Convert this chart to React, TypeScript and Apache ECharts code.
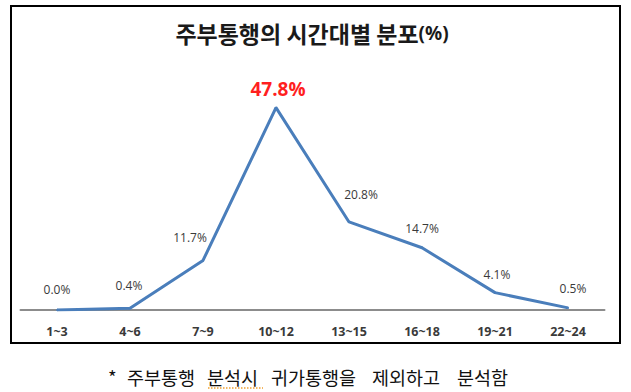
import React, { useEffect, useRef } from "react";
import * as echarts from "echarts";

const categories = ["1~3", "4~6", "7~9", "10~12", "13~15", "16~18", "19~21", "22~24"];
const shares = [0.0, 0.4, 11.7, 47.8, 20.8, 14.7, 4.1, 0.5];
const labelOffsets = [[0, -9], [-1, -11], [-13, -11], [2, -3], [12, -15], [0, -7], [2, -6], [5, -7]];
const titleText = "주부통행의 시간대별 분포";
const titleUnit = "(%)";
const noteWords = ["*", "주부통행", "분석시", "귀가통행을", "제외하고", "분석함"];
const noteX = [108, 127, 207, 271, 372, 457];

export default function App() {
  const ref = useRef<HTMLDivElement>(null);
  useEffect(() => {
    const chart = echarts.init(ref.current!, null, { renderer: "svg" });
    const maxV = Math.max(...shares);
    const option = {
      animation: false,
      backgroundColor: "#ffffff",
      grid: { left: 20.5, right: 26.5, top: 56, bottom: 82 },
      xAxis: {
        type: "category",
        data: categories,
        boundaryGap: true,
        axisLine: { lineStyle: { color: "#8c8c8c", width: 2 } },
        axisTick: { show: false },
        axisLabel: {
          margin: 15,
          fontSize: 12.5,
          fontWeight: "bold",
          color: "#3a3a3a",
          fontFamily: "Open Sans",
        },
      },
      yAxis: { type: "value", min: 0, max: 60, show: false },
      series: [
        {
          type: "line",
          data: shares.map((v, i) => ({
            value: v,
            label:
              v === maxV
                ? {
                    offset: labelOffsets[i],
                    fontSize: 19,
                    fontWeight: "bold",
                    color: "#ff1f1f",
                    fontFamily: "Open Sans",
                  }
                : { offset: labelOffsets[i] },
          })),
          symbol: "circle",
          symbolSize: 2,
          showSymbol: true,
          itemStyle: { color: "#4a7ebb" },
          lineStyle: { color: "#4a7ebb", width: 3 },
          label: {
            show: true,
            position: "top",
            fontSize: 12,
            color: "#3a3a3a",
            fontFamily: "Open Sans",
            formatter: (p: any) => Number(p.value).toFixed(1) + "%",
          },
        },
      ],
      graphic: [
        {
          type: "rect",
          shape: { x: 11, y: 6, width: 609, height: 337 },
          style: { fill: "none", stroke: "#000000", lineWidth: 2 },
          z: 100,
        },
        {
          type: "text",
          x: 312,
          y: 33,
          style: {
            text: "{a|" + titleText + "}{b|" + titleUnit + "}",
            align: "center",
            verticalAlign: "middle",
            rich: {
              a: {
                fontSize: 23,
                fontWeight: "bold",
                fill: "#1a1a1a",
                fontFamily: "Noto Sans CJK KR",
              },
              b: {
                fontSize: 19,
                fontWeight: "bold",
                fill: "#1a1a1a",
                fontFamily: "Noto Sans",
              },
            },
          },
          z: 100,
        },
        ...noteWords.map((w, i) => ({
          type: "text",
          x: noteX[i],
          y: 377,
          style: {
            text: w,
            align: "left",
            verticalAlign: "middle",
            fontSize: 18.5,
            fontFamily: "Noto Sans CJK KR",
            fill: "#111111",
          },
          z: 100,
        })),
        {
          type: "line",
          shape: { x1: 208, y1: 388, x2: 263, y2: 388 },
          style: { stroke: "#f0a030", lineWidth: 1.5, lineDash: [1.5, 1.5] },
          z: 100,
        },
      ],
    };
    chart.setOption(option as any);
    return () => chart.dispose();
  }, []);
  return (
    <div
      ref={ref}
      style={{ position: "fixed", left: 0, top: 0, width: 631, height: 392 }}
    />
  );
}
